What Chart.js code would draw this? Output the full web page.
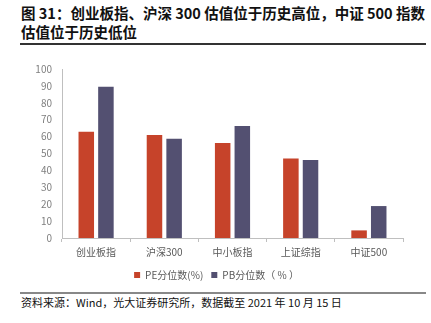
<!DOCTYPE html>
<html><head><meta charset="utf-8">
<script src="https://cdn.jsdelivr.net/npm/chart.js@4/dist/chart.umd.min.js"></script>
<style>
body{margin:0;width:431px;height:323px;background:#fff;position:relative;overflow:hidden;font-family:"Noto Sans CJK SC","Noto Sans",sans-serif}
#title{position:absolute;left:21px;top:3px;width:410px;font-size:14.5px;font-weight:bold;line-height:19px;color:#111;white-space:nowrap}
#rule1{position:absolute;left:20px;top:43px;width:406px;height:1.5px;background:#333}
#wrap{position:absolute;left:0;top:53px;width:431px;height:237px}
#rule2{position:absolute;left:20px;top:292px;width:406px;height:1.5px;background:#888}
#src{position:absolute;left:21px;top:294px;font-size:11px;color:#111}
</style></head><body>
<div id="title">图 31：创业板指、沪深 300 估值位于历史高位，中证 500 指数<br>估值位于历史低位</div>
<div id="rule1"></div>
<div id="wrap"><canvas id="c"></canvas></div>
<div id="rule2"></div>
<div id="src">资料来源：Wind，光大证券研究所，数据截至 2021 年 10 月 15 日</div>
<script>
const categories=["创业板指","沪深300","中小板指","上证综指","中证500"];
const pe=[62.9,61,56.2,47.1,4.5];
const pb=[89.5,58.8,66.3,46.2,18.9];
const yTicks=[0,10,20,30,40,50,60,70,80,90,100];
const colors={pe:"#C6432A",pb:"#535071",axis:"#bfbfbf",text:"#595959"};
Chart.defaults.font.family='"Noto Sans CJK SC","Noto Sans",sans-serif';
Chart.defaults.color=colors.text;
new Chart("c",{type:"bar",data:{labels:categories,datasets:[
  {label:"PE分位数(%)",data:pe,backgroundColor:colors.pe},
  {label:"PB分位数（ % ）",data:pb,backgroundColor:colors.pb}
]},options:{responsive:true,maintainAspectRatio:false,animation:false,
  categoryPercentage:0.576,barPercentage:0.79,
  layout:{padding:{top:16,right:28,bottom:0,left:30}},
  plugins:{legend:{position:"bottom",labels:{boxWidth:6,boxHeight:6,padding:8,font:{size:10}}},tooltip:{enabled:false}},
  scales:{
    x:{grid:{offset:true,drawOnChartArea:false,color:colors.axis,tickLength:4},border:{color:colors.axis},ticks:{font:{size:10},padding:4}},
    y:{min:0,max:100,afterBuildTicks:s=>{s.ticks=yTicks.map(v=>({value:v}))},afterFit:s=>{s.width=32},
       grid:{display:false},border:{color:colors.axis},ticks:{font:{size:10},padding:2,color:"#7f7f7f"}}
  }}});
</script></body></html>
